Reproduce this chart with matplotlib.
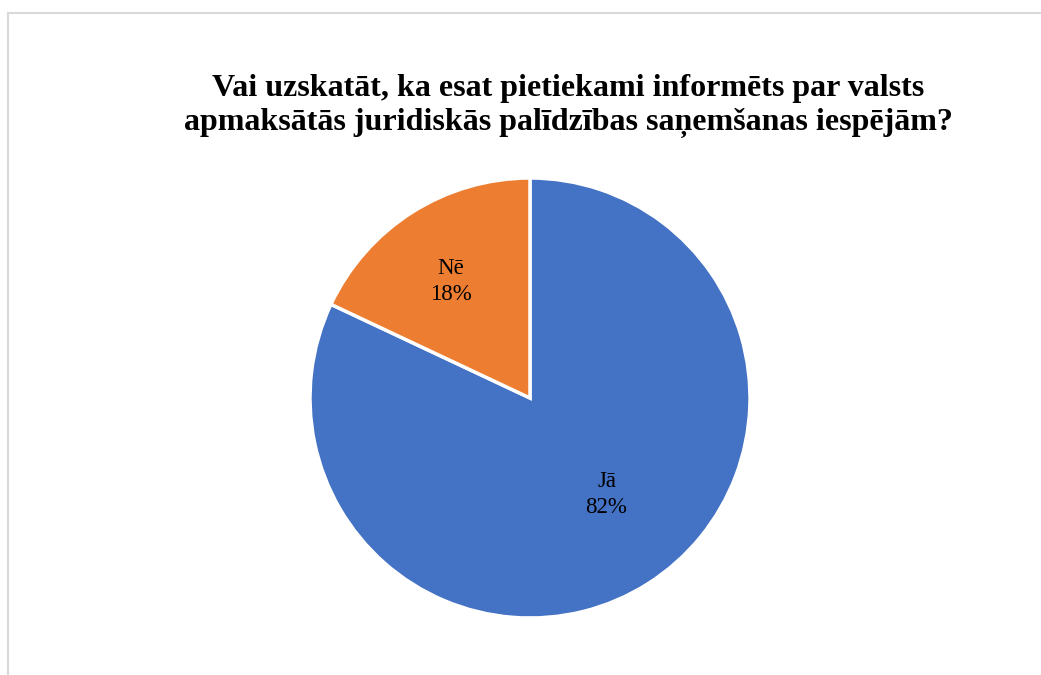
import math
import matplotlib.pyplot as plt
from matplotlib.patches import Rectangle

labels = ['Jā', 'Nē']
values = [82, 18]
colors = ['#4472C4', '#ED7D31']
title = 'Vai uzskatāt, ka esat pietiekami informēts par valsts\napmaksātās juridiskās palīdzības saņemšanas iespējām?'

W, H = 1041, 675
fig = plt.figure(figsize=(W / 100, H / 100), dpi=100)
plt.rcParams['font.family'] = ['Liberation Serif', 'DejaVu Serif']

# light gray frame round the chart area
fig.patches.append(Rectangle((8 / W, -0.05), 1.1, 1 - 13 / H + 0.05, transform=fig.transFigure,
                             fill=False, edgecolor='#d9d9d9', linewidth=1.5))

# pie area: centre (530, 398) px, radius 220 px
cx, cy, r = 530, 398, 220
ax = fig.add_axes([(cx - r) / W, 1 - (cy + r) / H, 2 * r / W, 2 * r / H])
wedges, texts = ax.pie(values, colors=colors, startangle=90, counterclock=False,
                       wedgeprops={'linewidth': 2.5, 'edgecolor': 'white'})
ax.set_xlim(-1, 1)
ax.set_ylim(-1, 1)
ax.set_aspect('equal')
ax.axis('off')

# label distance from centre (fraction of radius) and small angle shift
label_r = [0.56, 0.64]
label_shift = [6, 2]
start = 90
for lab, v, lr, sh in zip(labels, values, label_r, label_shift):
    mid = start - v / 100 * 360 / 2 + sh
    start -= v / 100 * 360
    x = lr * math.cos(math.radians(mid))
    y = lr * math.sin(math.radians(mid))
    ax.text(x, y, f'{lab}\n{v}%', ha='center', va='center', fontsize=16.5, linespacing=1.3)

fig.text(568 / W, 1 - 106 / H, title, ha='center', va='center', fontsize=23,
         fontweight='bold', linespacing=1.27)

plt.savefig('out.png', dpi=100)
